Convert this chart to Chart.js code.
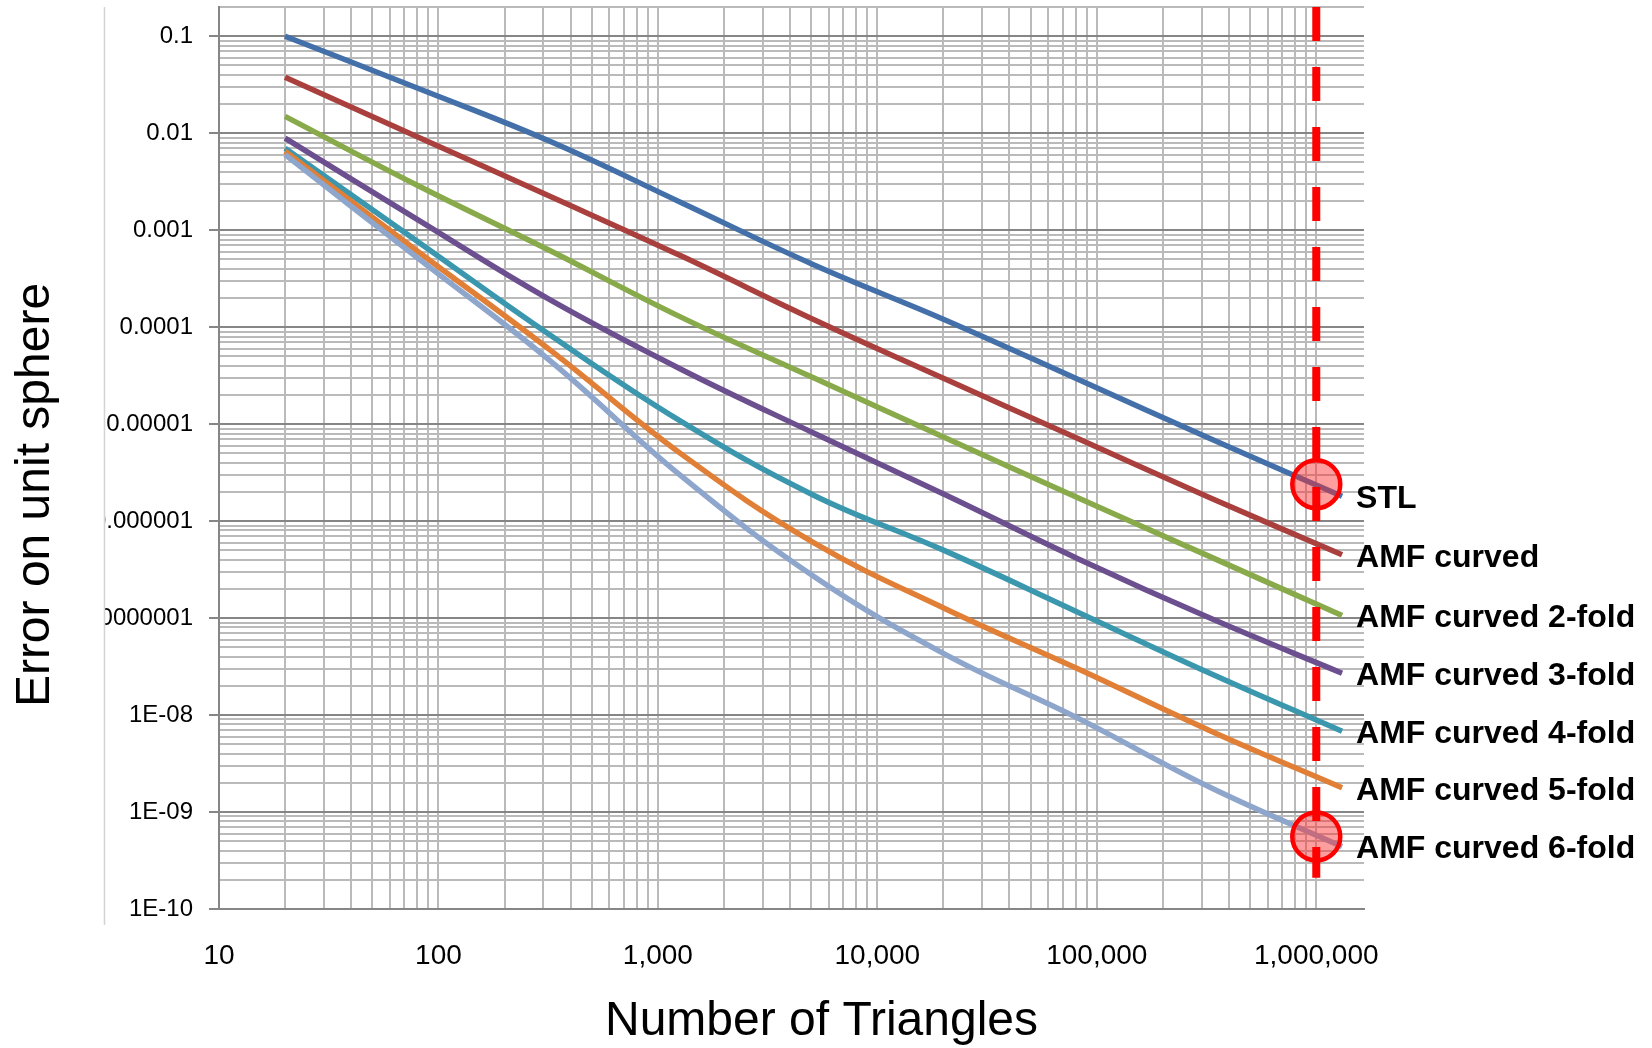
<!DOCTYPE html>
<html>
<head>
<meta charset="utf-8">
<title>Error on unit sphere vs number of triangles</title>
<script src="https://cdn.jsdelivr.net/npm/chart.js@4.4.1/dist/chart.umd.min.js"></script>
<style>
  html, body { margin: 0; padding: 0; background: #fff; }
  #wrap { width: 1652px; height: 1048px; position: relative; }
</style>
</head>
<body>
<div id="wrap"><canvas id="chart-erro"></canvas></div>
<script>
// number of triangles after each subdivision of the icosahedron
const triangles = [20, 80, 320, 1280, 5120, 20480, 81920, 327680, 1310720];

const nomes = ['STL', 'AMF curved', 'AMF curved 2-fold', 'AMF curved 3-fold',
  'AMF curved 4-fold', 'AMF curved 5-fold', 'AMF curved 6-fold'];

const stl     = [0.1, 0.0292, 0.0083, 0.00192, 4.4e-4, 1.18e-4, 2.9e-5, 7.1e-6, 1.8e-6];
const curved  = [0.0378, 0.0092, 0.00225, 5.4e-4, 1.2e-4, 2.9e-5, 7.1e-6, 1.74e-6, 4.5e-7];
const curved2 = [0.0149, 0.0029, 6.2e-4, 1.26e-4, 3.0e-5, 7.2e-6, 1.74e-6, 4.3e-7, 1.06e-7];
const curved3 = [0.0089, 0.00129, 1.93e-4, 3.66e-5, 8.1e-6, 1.86e-6, 4.1e-7, 1.0e-7, 2.7e-8];
const curved4 = [0.0070, 7.7e-4, 8.4e-5, 1.06e-5, 1.85e-6, 4.9e-7, 1.15e-7, 2.7e-8, 6.8e-9];
const curved5 = [0.0065, 6.1e-4, 5.9e-5, 4.9e-6, 6.0e-7, 1.24e-7, 3.0e-8, 6.9e-9, 1.78e-9];
const curved6 = [0.0060, 5.2e-4, 4.57e-5, 2.9e-6, 2.7e-7, 4.2e-8, 9.3e-9, 1.8e-9, 4.4e-10];

const cores = ['#4470aa', '#a9403e', '#88aa4a', '#6b4f8e', '#3a97ae', '#e07f35', '#8ea6cc'];

// marker at one million triangles
const marcaX = 1e6;
const marcaTopo = 0.2;
const marcaBase = 2.1e-10;
const circulos = [2.4e-6, 5.6e-10];

// axes
const xMin = 10, xMax = 1.65e6;
const yMin = 1e-10, yMax = 0.2;
const xDecadas = [10, 100, 1000, 10000, 100000, 1000000];
const xRotulos = ['10', '100', '1,000', '10,000', '100,000', '1,000,000'];
const yDecadas = [0.1, 0.01, 0.001, 1e-4, 1e-5, 1e-6, 1e-7, 1e-8, 1e-9, 1e-10];
const yRotulos = ['0.1', '0.01', '0.001', '0.0001', '0.00001', '0.000001', '0.0000001',
  '1E-08', '1E-09', '1E-10'];
const tituloX = 'Number of Triangles';
const tituloY = 'Error on unit sphere';

const series = [stl, curved, curved2, curved3, curved4, curved5, curved6];

function rotulo(valor, decadas, rotulos) {
  const i = decadas.findIndex(d => Math.abs(valor / d - 1) < 1e-9);
  return i >= 0 ? rotulos[i] : '';
}

const datasets = series.map((valores, i) => ({
  label: nomes[i],
  data: valores.map((v, j) => ({ x: triangles[j], y: v })),
  borderColor: cores[i],
  backgroundColor: cores[i],
  borderWidth: 5.5,
  pointRadius: 0,
  tension: 0.4,
  order: 10 - i
}));

datasets.push({
  label: 'circulos',
  data: circulos.map(v => ({ x: marcaX, y: v })),
  showLine: false,
  pointRadius: 24,
  pointBorderWidth: 4.5,
  pointBorderColor: '#ff0000',
  pointBackgroundColor: 'rgba(255, 40, 40, 0.45)',
  order: -1
});

datasets.push({
  label: 'marca',
  data: [{ x: marcaX, y: marcaTopo }, { x: marcaX, y: marcaBase }],
  borderColor: '#ff0000',
  borderWidth: 8,
  borderDash: [34, 26],
  borderCapStyle: 'butt',
  pointRadius: 0,
  order: -2
});

// clips the y tick labels at the frame edge, draws the frame line and axis titles
const moldura = {
  id: 'moldura',
  beforeDatasetsDraw(chart) {
    const ctx = chart.ctx;
    const area = chart.chartArea;
    ctx.save();
    ctx.fillStyle = '#ffffff';
    ctx.fillRect(0, 0, 104, chart.height);
    ctx.strokeStyle = '#d4d4d4';
    ctx.lineWidth = 1.5;
    ctx.beginPath();
    ctx.moveTo(104.5, area.top);
    ctx.lineTo(104.5, area.bottom + 16);
    ctx.stroke();

    ctx.fillStyle = '#000';
    ctx.font = '48px "Liberation Sans", Arial, sans-serif';
    ctx.textAlign = 'center';
    ctx.textBaseline = 'middle';
    ctx.fillText(tituloX, (area.left + area.right) / 2 + 30, chart.height - 26);
    ctx.translate(36, (area.top + area.bottom) / 2 + 37);
    ctx.rotate(-Math.PI / 2);
    ctx.fillText(tituloY, 0, 0);
    ctx.restore();
  }
};

// series names next to the end of each line
const nomesFinais = {
  id: 'nomesFinais',
  afterDatasetsDraw(chart) {
    const ctx = chart.ctx;
    ctx.save();
    ctx.font = 'bold 32px "Liberation Sans", Arial, sans-serif';
    ctx.fillStyle = '#000';
    ctx.textAlign = 'left';
    ctx.textBaseline = 'middle';
    series.forEach((s, i) => {
      const pts = chart.getDatasetMeta(i).data;
      const ult = pts[pts.length - 1];
      ctx.fillText(nomes[i], ult.x + 14, ult.y + 3);
    });
    ctx.restore();
  }
};

Chart.defaults.font.family = '"Liberation Sans", Arial, sans-serif';
Chart.defaults.color = '#000';

const ctx = document.getElementById('chart-erro').getContext('2d');
new Chart(ctx, {
  type: 'line',
  data: { datasets },
  options: {
    responsive: true,
    maintainAspectRatio: false,
    animation: false,
    layout: { autoPadding: false, padding: { left: 0, top: 7, right: 288, bottom: 0 } },
    plugins: {
      legend: { display: false },
      tooltip: { enabled: false }
    },
    scales: {
      x: {
        type: 'logarithmic',
        min: xMin,
        max: xMax,
        afterBuildTicks(axis) {
          const ticks = [];
          xDecadas.forEach((d, i) => {
            ticks.push({ value: d, major: true });
            if (i < xDecadas.length - 1) {
              for (let m = 2; m <= 9; m++) ticks.push({ value: m * d, major: false });
            }
          });
          axis.ticks = ticks;
        },
        afterFit(axis) {
          axis.height = 139;
          axis.paddingLeft = 0;
          axis.paddingRight = 0;
        },
        grid: {
          color: '#bababa',
          lineWidth: 2,
          drawTicks: false
        },
        border: { color: '#868686', width: 2 },
        ticks: {
          autoSkip: false,
          maxRotation: 0,
          padding: 30,
          font: { size: 28 },
          callback: v => rotulo(v, xDecadas, xRotulos)
        }
      },
      y: {
        type: 'logarithmic',
        min: yMin,
        max: yMax,
        afterBuildTicks(axis) {
          const ticks = [];
          yDecadas.slice().reverse().forEach((d, i, arr) => {
            ticks.push({ value: d, major: true });
            if (i < arr.length - 1) {
              for (let m = 2; m <= 9; m++) ticks.push({ value: m * d, major: false });
            }
          });
          ticks.push({ value: yMax, major: false });
          axis.ticks = ticks;
        },
        afterFit(axis) {
          axis.width = 219;
          axis.paddingTop = 0;
          axis.paddingBottom = 0;
        },
        grid: {
          color: c => (c.tick && c.tick.major ? '#868686' : '#bababa'),
          lineWidth: 2,
          tickLength: 10,
          tickColor: c => (c.tick && c.tick.major ? '#868686' : 'rgba(0,0,0,0)'),
          tickWidth: 2
        },
        border: { color: '#868686', width: 2 },
        ticks: {
          autoSkip: false,
          padding: 16,
          font: { size: 24 },
          callback: v => rotulo(v, yDecadas, yRotulos)
        }
      }
    }
  },
  plugins: [moldura, nomesFinais]
});
</script>
</body>
</html>
